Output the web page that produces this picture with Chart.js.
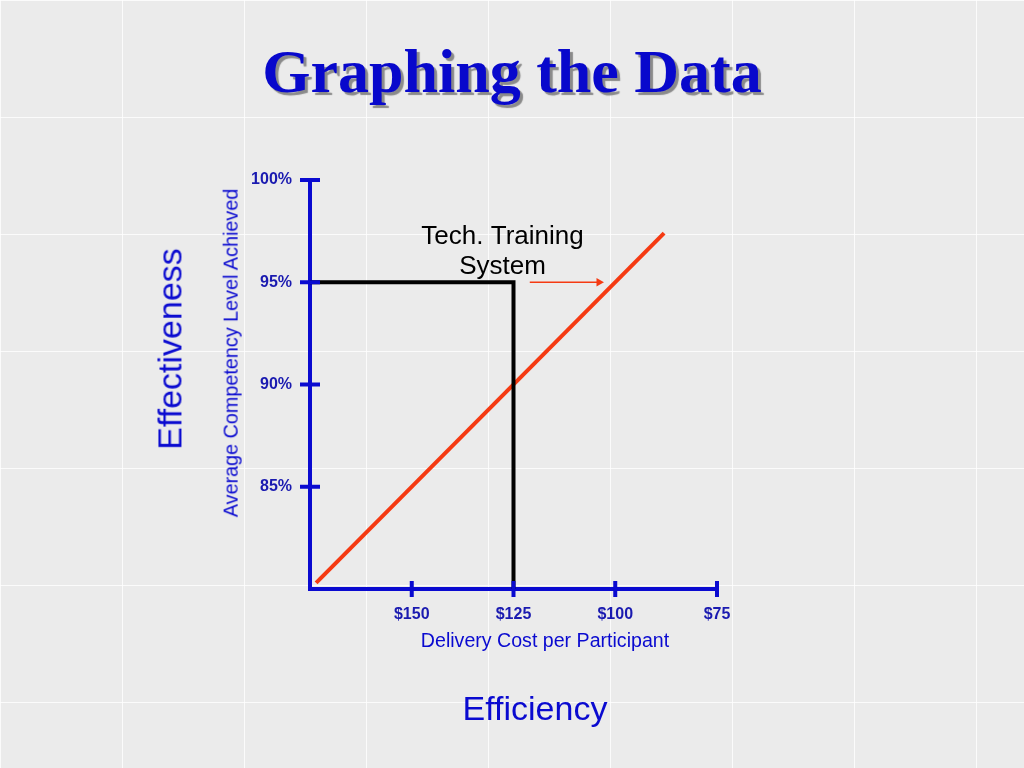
<!DOCTYPE html>
<html>
<head>
<meta charset="utf-8">
<script src="https://cdn.jsdelivr.net/npm/chart.js@4.4.1/dist/chart.umd.min.js"></script>
<style>
  html, body { margin: 0; padding: 0; }
  body {
    width: 1024px; height: 768px; position: relative; overflow: hidden;
    background-color: #ebebeb;
    background-image:
      linear-gradient(to right, rgba(255,255,255,0.8) 1px, transparent 1px),
      linear-gradient(to bottom, rgba(255,255,255,0.8) 1px, transparent 1px);
    background-size: 122px 117px;
    background-position: 0 0;
    font-family: "Liberation Sans", Arial, sans-serif;
  }
  #chart { position: absolute; left: 0; top: 0; }
  .lbl { position: absolute; white-space: nowrap; color: #0a0ad0; line-height: 1.15; }
  #title {
    position: absolute; left: 0; width: 1024px; top: 40px; text-align: center;
    font-family: "Liberation Serif", "Times New Roman", serif; font-weight: bold;
    font-size: 62px; line-height: 62px; color: #0808cc;
    text-shadow: 3px 3px 1px #8a8a8a;
  }
</style>
</head>
<body>
<div id="title">Graphing the Data</div>
<canvas id="chart" width="1024" height="768"></canvas>
<div class="lbl" style="left:170px; top:349px; font-size:34px; transform:translate(-50%,-50%) rotate(-90deg);">Effectiveness</div>
<div class="lbl" style="left:231px; top:353px; font-size:19.8px; transform:translate(-50%,-50%) rotate(-90deg);">Average Competency Level Achieved</div>
<div class="lbl" style="left:545px; top:640px; font-size:19.6px; transform:translate(-50%,-50%);">Delivery Cost per Participant</div>
<div class="lbl" style="left:535px; top:709px; font-size:34px; transform:translate(-50%,-50%);">Efficiency</div>
<script>
// cost axis runs from $175 (left) down to $75 (right)
const xTickValues = [150, 125, 100, 75];
const xTickLabels = ['$150', '$125', '$100', '$75'];
const yTickValues = [85, 90, 95, 100];
const yTickLabels = ['85%', '90%', '95%', '100%'];

// trade-off line (cost, competency)
const lineCost = [173.5, 88];
const lineLevel = [80.3, 97.4];

// Tech. Training System: $125 for 95%
const systemCost = [175, 125, 125];
const systemLevel = [95, 95, 80];

// pointer arrow
const arrowCost = [121, 104];
const arrowLevel = [95, 95];

const noteLines = ['Tech. Training', 'System'];
const noteCost = [127.7, 127.7];
const noteLevel = [97.2, 95.75];

const BLUE = '#0a0ad0';
const TICK_TEXT = '#1a1ab0';
const RED = '#f53a12';

function pts(xs, ys) {
    return xs.map((x, i) => ({ x: x, y: ys[i] }));
}

const crossTicks = {
    id: 'crossTicks',
    afterDraw(chart) {
        const ctx = chart.ctx;
        const xs = chart.scales.x, ys = chart.scales.y;
        const area = chart.chartArea;
        ctx.save();
        ctx.strokeStyle = BLUE;
        ctx.lineWidth = 4;
        ctx.beginPath();
        yTickValues.forEach(v => {
            const py = ys.getPixelForValue(v);
            ctx.moveTo(area.left - 10, py);
            ctx.lineTo(area.left + 10, py);
        });
        xTickValues.forEach(v => {
            const px = xs.getPixelForValue(v);
            ctx.moveTo(px, area.bottom - 8);
            ctx.lineTo(px, area.bottom + 8);
        });
        ctx.stroke();

        ctx.fillStyle = '#000';
        ctx.font = '26px "Liberation Sans", Arial, sans-serif';
        ctx.textAlign = 'center';
        ctx.textBaseline = 'middle';
        noteLines.forEach((t, i) => {
            ctx.fillText(t, xs.getPixelForValue(noteCost[i]), ys.getPixelForValue(noteLevel[i]));
        });
        ctx.restore();
    }
};

new Chart(document.getElementById('chart').getContext('2d'), {
    type: 'scatter',
    data: {
        datasets: [
            {
                data: pts(systemCost, systemLevel),
                showLine: true,
                borderColor: '#000',
                borderWidth: 4,
                pointRadius: 0,
                borderCapStyle: 'butt',
                borderJoinStyle: 'miter'
            },
            {
                data: pts(lineCost, lineLevel),
                showLine: true,
                borderColor: RED,
                borderWidth: 4,
                pointRadius: 0
            },
            {
                data: pts(arrowCost, arrowLevel),
                showLine: true,
                borderColor: RED,
                backgroundColor: RED,
                borderWidth: 1.5,
                pointStyle: 'triangle',
                pointRadius: [0, 5],
                pointRotation: [0, 90],
                pointBorderWidth: 0
            }
        ]
    },
    options: {
        responsive: false,
        animation: false,
        layout: { padding: { left: 0, top: 180, right: 307, bottom: 0 } },
        plugins: { legend: { display: false }, tooltip: { enabled: false } },
        scales: {
            x: {
                type: 'linear',
                reverse: true,
                min: 75,
                max: 175,
                afterFit: s => { s.height = 179; },
                afterBuildTicks: s => { s.ticks = xTickValues.map(v => ({ value: v })); },
                grid: { display: false },
                border: { color: BLUE, width: 4 },
                ticks: {
                    color: TICK_TEXT,
                    padding: 8,
                    autoSkip: false,
                    maxRotation: 0,
                    font: { family: '"Liberation Sans", Arial, sans-serif', size: 16, weight: 'bold' },
                    callback: v => xTickLabels[xTickValues.indexOf(v)]
                }
            },
            y: {
                min: 80,
                max: 100,
                afterFit: s => { s.width = 310; },
                afterBuildTicks: s => { s.ticks = yTickValues.map(v => ({ value: v })); },
                grid: { display: false },
                border: { color: BLUE, width: 4 },
                ticks: {
                    color: TICK_TEXT,
                    padding: 10,
                    autoSkip: false,
                    font: { family: '"Liberation Sans", Arial, sans-serif', size: 16, weight: 'bold' },
                    callback: v => yTickLabels[yTickValues.indexOf(v)]
                }
            }
        }
    },
    plugins: [crossTicks]
});
</script>
</body>
</html>
